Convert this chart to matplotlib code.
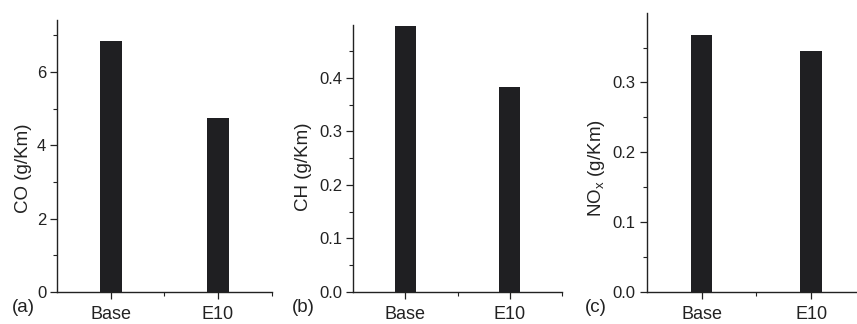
import matplotlib
matplotlib.use("Agg")
import matplotlib.pyplot as plt
from matplotlib.ticker import MultipleLocator, FixedLocator

plt.rcParams['font.family'] = ['Liberation Sans', 'DejaVu Sans']

categories = ["Base", "E10"]
co_values = [6.85, 4.75]
ch_values = [0.497, 0.383]
nox_values = [0.368, 0.345]

panel_labels = ["(a)", "(b)", "(c)"]
ylabels = ["CO (g/Km)", "CH (g/Km)", r"NO$_\mathregular{x}$ (g/Km)"]

fig = plt.figure(figsize=(8.57, 3.24), dpi=100)
W, H = 857, 324

def px_axes(l, r, top, bottom=292):
    return [l / W, 1 - bottom / H, (r - l) / W, (bottom - top) / H]

specs = [
    dict(pos=px_axes(57.3, 271.5, 20), vals=co_values, ylim=7.42, major=2, minor=1,
         fmt="{:.0f}", lab=(-0.118, 0.456), plab=(12, 307)),
    dict(pos=px_axes(353.3, 562, 25), vals=ch_values, ylim=0.499, major=0.1, minor=0.05,
         fmt="{:.1f}", lab=(-0.198, 0.47), plab=(292, 307)),
    dict(pos=px_axes(646.7, 866, 13.3), vals=nox_values, ylim=0.399, major=0.1, minor=0.05,
         fmt="{:.1f}", lab=(-0.181, 0.446), plab=(585, 307)),
]

x = [1, 2]
for i, s in enumerate(specs):
    ax = fig.add_axes(s["pos"])
    ax.bar(x, s["vals"], width=0.2, color="#1f1f22", edgecolor="none")
    ax.set_xlim(0.5, 2.5)
    ax.set_ylim(0, s["ylim"])
    ax.set_xticks(x)
    ax.set_xticklabels(categories, fontsize=13)
    ax.xaxis.set_minor_locator(FixedLocator([1.5, 2.5]))
    ax.yaxis.set_major_locator(MultipleLocator(s["major"]))
    ax.yaxis.set_minor_locator(MultipleLocator(s["minor"]))
    ax.yaxis.set_major_formatter(plt.FuncFormatter(lambda v, p, f=s["fmt"]: f.format(v)))
    ax.tick_params(axis="y", which="major", direction="out", length=5, width=0.9,
                   labelsize=12, pad=3, colors="#222222")
    ax.tick_params(axis="y", which="minor", direction="out", length=3, width=0.8, colors="#222222")
    ax.tick_params(axis="x", which="major", direction="out", length=5, width=0.9, pad=5,
                   colors="#222222")
    ax.tick_params(axis="x", which="minor", direction="out", length=3, width=0.8, colors="#222222")
    for sp in ["top", "right"]:
        ax.spines[sp].set_visible(False)
    for sp in ["left", "bottom"]:
        ax.spines[sp].set_linewidth(1.0)
        ax.spines[sp].set_color("#222222")
    ax.set_ylabel(ylabels[i], fontsize=13.5, color="#222222")
    ax.yaxis.set_label_coords(*s["lab"])
    fig.text(s["plab"][0] / W, 1 - s["plab"][1] / H, panel_labels[i], fontsize=13.5,
             ha="left", va="center", color="#222222")

fig.savefig("out.png", dpi=100)
